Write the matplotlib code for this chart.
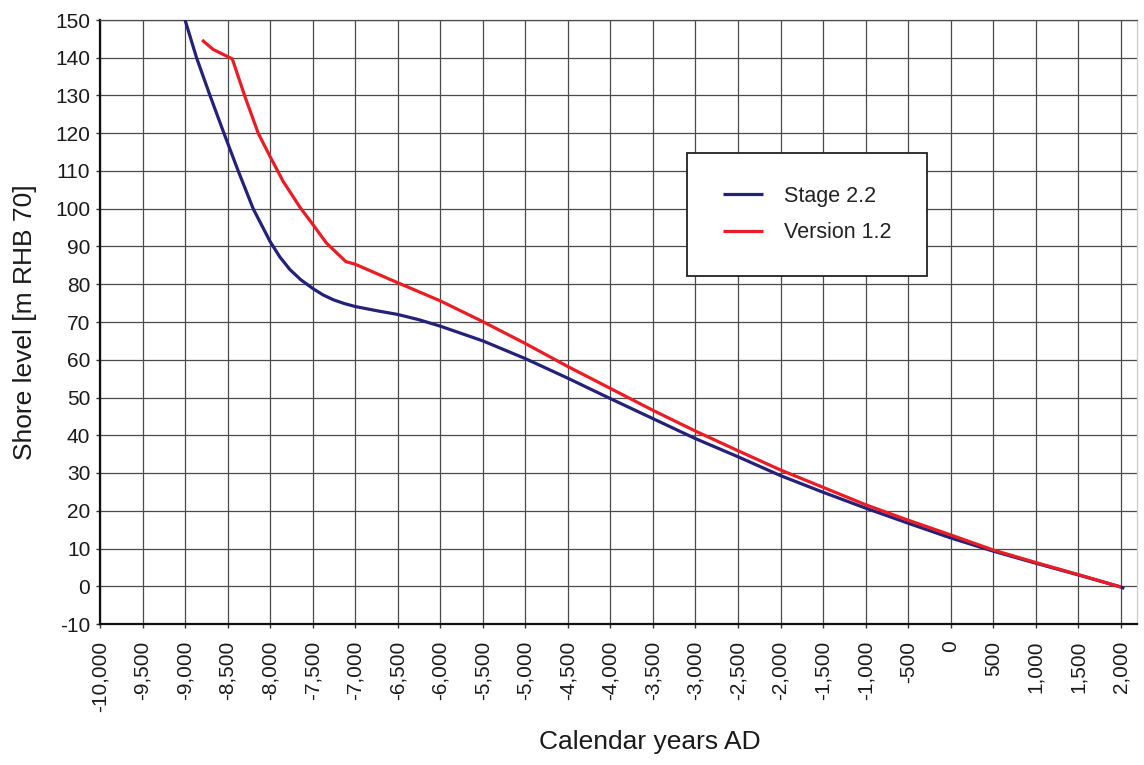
import matplotlib
matplotlib.use("Agg")
import matplotlib.pyplot as plt
from matplotlib.patches import Rectangle

plt.rcParams['font.family'] = ['Liberation Sans', 'DejaVu Sans']
plt.rcParams['axes.unicode_minus'] = False

# Stage 2.2 (blue)
stage_years = [-9000, -8865, -8707, -8543, -8375, -8199, -8000, -7885, -7768, -7640,
               -7500, -7380, -7258, -7130, -7000, -6750, -6500, -6250, -6000, -5500,
               -5000, -4500, -4000, -3500, -3000, -2500, -2000, -1500, -1000, -500,
               0, 500, 1000, 1500, 2000, 2040]
stage_level = [150, 140, 130, 120, 110, 100, 91.3, 87.2, 83.9, 81.2,
               78.9, 77.2, 75.9, 74.9, 74.1, 73.0, 72.0, 70.6, 68.9, 65.0,
               60.3, 55.1, 49.7, 44.4, 39.1, 34.3, 29.3, 24.9, 20.7, 16.7,
               12.8, 9.3, 6.1, 3.0, -0.2, -0.6]

# Version 1.2 (red)
version_years = [-8800, -8670, -8445, -8296, -8140, -8000, -7846, -7750, -7650, -7500,
                 -7338, -7110, -7000, -6500, -6000, -5500, -5000, -4500, -4000, -3500,
                 -3000, -2500, -2000, -1500, -1000, -500, 0, 500, 1000, 1500, 2000]
version_level = [144.7, 142.2, 139.7, 129.7, 120.0, 113.8, 107.2, 103.9, 100.4, 95.9,
                 90.9, 86.0, 85.3, 80.4, 75.6, 70.1, 64.3, 58.2, 52.4, 46.6,
                 41.1, 35.9, 30.8, 26.2, 21.6, 17.5, 13.6, 9.6, 6.3, 3.1, -0.2]

x_ticks = list(range(-10000, 2001, 500))
x_tick_labels = [f"{v:,}" for v in x_ticks]
y_ticks = list(range(-10, 151, 10))
y_tick_labels = [str(v) for v in y_ticks]

series_names = ["Stage 2.2", "Version 1.2"]
series_colors = ["#24217a", "#ec1c24"]

W, H = 1144, 765
fig = plt.figure(figsize=(W / 100, H / 100), dpi=100)
ax = fig.add_axes([100 / W, (H - 624) / H, 1037 / W, 604 / H])

ax.plot(stage_years, stage_level, color=series_colors[0], lw=2.3, label=series_names[0],
        zorder=3, solid_capstyle='butt', solid_joinstyle='round')
ax.plot(version_years, version_level, color=series_colors[1], lw=2.3, label=series_names[1],
        zorder=4, solid_capstyle='butt', solid_joinstyle='round')

ax.set_xlim(-10000, 2190)
ax.set_ylim(-10, 150)
ax.set_xticks(x_ticks)
ax.set_xticklabels(x_tick_labels, rotation=90, fontsize=15, color='#1a1a1a')
ax.set_yticks(y_ticks)
ax.set_yticklabels(y_tick_labels, fontsize=15, color='#1a1a1a')
ax.tick_params(axis='x', length=3, width=1, pad=9, color='#333333')
ax.tick_params(axis='y', length=3, width=1, pad=4, color='#333333')

ax.grid(True, color='#4a4a4a', lw=0.9, zorder=1)
ax.set_axisbelow(True)

for s in ['left', 'bottom']:
    ax.spines[s].set_color('#111111')
    ax.spines[s].set_linewidth(1.6)
ax.spines['top'].set_color('#4a4a4a')
ax.spines['top'].set_linewidth(0.9)
ax.spines['right'].set_color('#cccccc')
ax.spines['right'].set_linewidth(0.9)

ax.set_ylabel("Shore level [m RHB 70]", fontsize=19, color='#1a1a1a', labelpad=13)
ax.set_xlabel("Calendar years AD", fontsize=19, color='#1a1a1a')
ax.xaxis.set_label_coords((650 - 100) / 1037, (624 - 730) / 604)

# legend frame
frame = Rectangle((687 / W, 1 - 276 / H), 240 / W, 123 / H,
                  transform=fig.transFigure, facecolor='white',
                  edgecolor='#222222', lw=1.3, zorder=8, clip_on=False)
ax.add_patch(frame)
leg = ax.legend(loc='upper left', bbox_to_anchor=(723 / W, 1 - 186 / H),
                bbox_transform=fig.transFigure, frameon=False, fontsize=15.5,
                borderpad=0, borderaxespad=0, handlelength=1.86,
                handletextpad=0.98, labelspacing=0.7)
for t in leg.get_texts():
    t.set_color('#222222')
leg.set_zorder(10)

fig.savefig("out.png", dpi=100)
